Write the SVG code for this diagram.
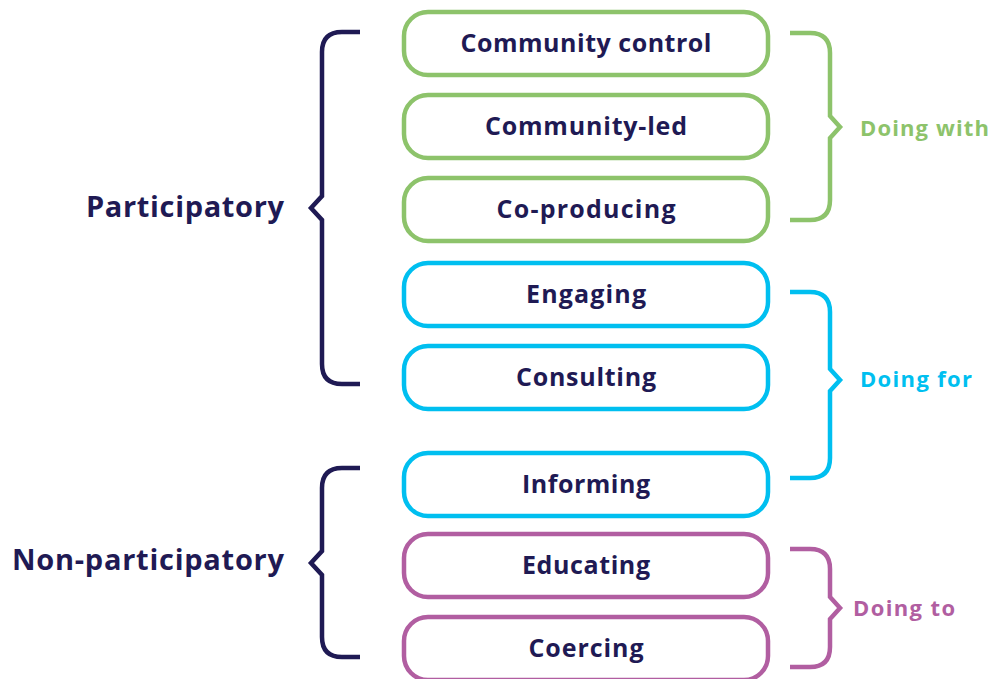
<svg xmlns="http://www.w3.org/2000/svg" width="991" height="679" viewBox="0 0 991 679">
<style>
.box{fill:#fff;stroke-width:4.5}
.g{stroke:#8dc36b}.c{stroke:#00bff0}.p{stroke:#b15ea1}
.t{font-family:"Open Sans","Noto Sans",sans-serif;font-weight:700;font-size:25px;fill:#1f1a54;text-anchor:middle}
.br{fill:none;stroke-width:4.5;stroke-linejoin:miter}
.big{font-family:"Open Sans","Noto Sans",sans-serif;font-weight:700;font-size:29px;fill:#1f1a54;text-anchor:end}
.lab{font-family:"Open Sans","Noto Sans",sans-serif;font-weight:700;font-size:22px}
</style>
<g id="n1"><rect class="box g" x="404" y="12" width="364" height="63" rx="24"/><text class="t" x="586" y="52" textLength="251">Community control</text></g>
<g id="n2"><rect class="box g" x="404" y="95" width="364" height="63" rx="24"/><text class="t" x="586" y="135" textLength="202">Community-led</text></g>
<g id="n3"><rect class="box g" x="404" y="178" width="364" height="63" rx="24"/><text class="t" x="586" y="218" textLength="179">Co-producing</text></g>
<g id="n4"><rect class="box c" x="404" y="263" width="364" height="63" rx="24"/><text class="t" x="586" y="303" textLength="120">Engaging</text></g>
<g id="n5"><rect class="box c" x="404" y="346" width="364" height="63" rx="24"/><text class="t" x="586" y="386" textLength="140">Consulting</text></g>
<g id="n6"><rect class="box c" x="404" y="453" width="364" height="63" rx="24"/><text class="t" x="586" y="493" textLength="128">Informing</text></g>
<g id="n7"><rect class="box p" x="404" y="534" width="364" height="63" rx="24"/><text class="t" x="586" y="574" textLength="128">Educating</text></g>
<g id="n8"><rect class="box p" x="404" y="617" width="364" height="63" rx="24"/><text class="t" x="586" y="657" textLength="115">Coercing</text></g>
<g id="connectors">
<path class="br" stroke="#1f1a54" d="M360,32 H342 Q322,32 322,52 V196 L311,208 L322,220 V364 Q322,384 342,384 H360"/>
<path class="br" stroke="#1f1a54" d="M360,468 H342 Q322,468 322,488 V551 L311,563 L322,575 V637 Q322,657 342,657 H360"/>
<path class="br" stroke="#8dc36b" d="M790,33 H810 Q830,33 830,53 V116 L840,127 L830,138 V200 Q830,220 810,220 H790"/>
<path class="br" stroke="#00bff0" d="M790,292 H810 Q830,292 830,312 V369 L840,380 L830,391 V458 Q830,478 810,478 H790"/>
<path class="br" stroke="#b15ea1" d="M790,549 H810 Q830,549 830,569 V597 L840,608 L830,619 V647 Q830,667 810,667 H790"/>
</g>
<g id="labels">
<text class="big" x="284" y="217" textLength="198">Participatory</text>
<text class="big" x="284" y="570" textLength="272">Non-participatory</text>
<text class="lab" x="860" y="136" fill="#8dc36b" textLength="129">Doing with</text>
<text class="lab" x="860" y="387" fill="#00bff0" textLength="112">Doing for</text>
<text class="lab" x="853" y="616" fill="#b15ea1" textLength="102">Doing to</text>
</g>
</svg>
